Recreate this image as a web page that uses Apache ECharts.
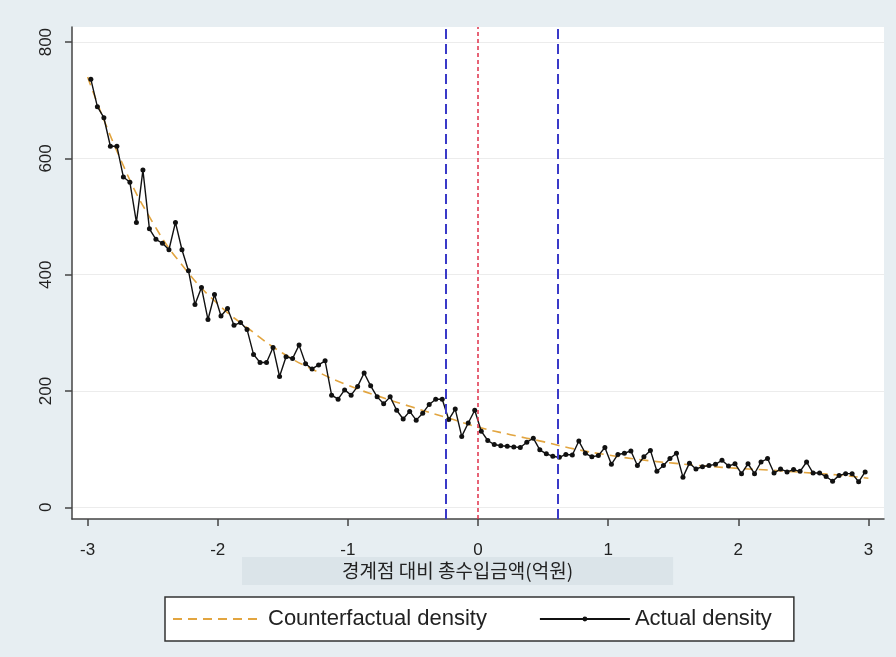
<!DOCTYPE html>
<html>
<head>
<meta charset="utf-8">
<script src="https://cdn.jsdelivr.net/npm/echarts@6/dist/echarts.min.js"></script>
<style>
    html, body { margin: 0; padding: 0; background: #e7eef2; }
    #density { width: 896px; height: 657px; }
</style>
</head>
<body>
<div id="density"></div>
<script>
//구간 시작점과 폭 (x축: 경계점 대비 총수입금액)
var binStart = -2.975;
var binWidth = 0.05;

//실제 밀도 (구간별)
var actualDensity = [
    736, 689, 670, 621, 621, 568, 559, 490, 580, 479,
    461, 454, 443, 490, 443, 407, 349, 378, 323, 366,
    329, 342, 313, 318, 306, 263, 249, 249, 275, 225,
    259, 256, 279, 247, 238, 245, 252, 193, 186, 202,
    193, 208, 231, 209, 190, 178, 190, 167, 152, 165,
    150, 162, 177, 186, 186, 151, 169, 122, 145, 167,
    131, 115, 108, 106, 105, 104, 103, 112, 119, 99,
    92, 88, 86, 91, 90, 114, 93, 87, 89, 103,
    74, 91, 93, 97, 72, 87, 98, 62, 72, 84,
    93, 52, 76, 66, 70, 72, 74, 81, 71, 75,
    58, 75, 58, 78, 84, 59, 66, 61, 65, 62,
    78, 59, 59, 53, 45, 55, 58, 58, 44, 61
];

//반사실적 밀도 (점선)
var cfX = [-3, -2.75, -2.5, -2.25, -2, -1.75, -1.5, -1.25, -1, -0.75, -0.5, -0.25, 0,
    0.25, 0.5, 0.75, 1, 1.25, 1.5, 1.75, 2, 2.25, 2.5, 2.75, 3];
var cfY = [740, 600, 490, 410, 350, 305, 265, 235, 210, 190, 172, 155, 138,
    125, 113, 100, 90, 82, 76, 71, 67, 64, 60, 56, 50];

//세로 기준선
var blueLines = [-0.25, 0.61];
var redLine = 0;

//눈금
var xTicks = [-3, -2, -1, 0, 1, 2, 3];
var yTicks = [0, 200, 400, 600, 800];

var actualData = [];
for (var i = 0; i < actualDensity.length; i++) {
    actualData.push([binStart + binWidth * i, actualDensity[i]]);
}
var cfData = [];
for (var j = 0; j < cfX.length; j++) {
    cfData.push([cfX[j], cfY[j]]);
}

var chart = echarts.init(document.getElementById("density"));

var font = "Liberation Sans, Arial, sans-serif";

var option = {
    backgroundColor: "#e7eef2",
    animation: false,
    title: {
        text: "경계점 대비 총수입금액(억원)",
        left: 242,
        top: 557,
        padding: [4, 100, 5, 100],
        backgroundColor: "#dbe4e9",
        textStyle: {
            fontFamily: "Noto Sans CJK KR",
            fontSize: 19,
            fontWeight: "normal",
            color: "#222"
        }
    },
    grid: {
        left: 72,
        right: 12,
        top: 27,
        bottom: 138,
        show: true,
        backgroundColor: "#ffffff",
        borderWidth: 0
    },
    legend: {
        left: 165,
        top: 597,
        padding: [11, 22, 11, 7],
        itemWidth: 90,
        itemHeight: 6,
        itemGap: 52,
        backgroundColor: "#ffffff",
        borderColor: "#333333",
        borderWidth: 1.5,
        borderRadius: 0,
        textStyle: {
            fontFamily: font,
            fontSize: 22,
            color: "#222"
        },
        data: [
            { name: "Counterfactual density", itemStyle: { opacity: 0 } },
            { name: "Actual density" }
        ]
    },
    xAxis: {
        type: "value",
        min: -3.12,
        max: 3.12,
        axisLine: { onZero: false, lineStyle: { color: "#444", width: 1.5 } },
        axisTick: {
            show: true,
            length: 7,
            customValues: xTicks,
            lineStyle: { color: "#444", width: 1.5 }
        },
        axisLabel: {
            customValues: xTicks,
            margin: 23,
            fontFamily: font,
            fontSize: 17,
            color: "#222"
        },
        splitLine: { show: false }
    },
    yAxis: {
        type: "value",
        min: -20,
        max: 826,
        axisLine: { show: true, onZero: false, lineStyle: { color: "#444", width: 1.5 } },
        axisTick: {
            show: true,
            length: 7,
            customValues: yTicks,
            lineStyle: { color: "#444", width: 1.5 }
        },
        axisLabel: {
            customValues: yTicks,
            rotate: 90,
            margin: 17,
            fontFamily: font,
            fontSize: 17,
            color: "#222"
        },
        splitLine: { show: true, lineStyle: { color: "#ececec", width: 1 } }
    },
    series: [
        {
            name: "Counterfactual density",
            type: "line",
            data: cfData,
            smooth: true,
            symbol: "none",
            lineStyle: { color: "#e2a540", width: 1.6, type: [9, 6] },
            itemStyle: { color: "#e2a540" },
            z: 3
        },
        {
            name: "Actual density",
            type: "line",
            data: actualData,
            symbol: "circle",
            symbolSize: 5,
            lineStyle: { color: "#111", width: 1.4 },
            itemStyle: { color: "#111" },
            z: 4,
            markLine: {
                silent: true,
                symbol: "none",
                label: { show: false },
                data: [
                    { xAxis: blueLines[0], lineStyle: { color: "#3a3ac8", width: 2, type: [10, 5] } },
                    { xAxis: blueLines[1], lineStyle: { color: "#3a3ac8", width: 2, type: [10, 5] } },
                    { xAxis: redLine, lineStyle: { color: "#e0304a", width: 1.5, type: [4, 3] } }
                ]
            }
        }
    ]
};

chart.setOption(option);
</script>
</body>
</html>
